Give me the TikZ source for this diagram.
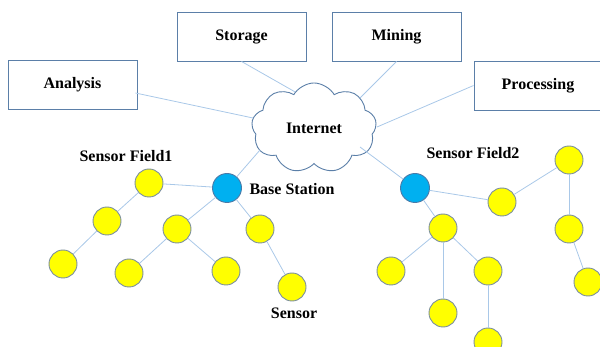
\documentclass[tikz,border=0pt]{standalone}
\usepackage{fontspec}
\setmainfont{Liberation Serif}
\usetikzlibrary{shapes.symbols,calc}
\definecolor{boxline}{HTML}{5B7FA8}
\definecolor{link}{HTML}{A9C8E8}
\definecolor{sensorfill}{HTML}{FFFF00}
\definecolor{sensorline}{HTML}{7A8EA0}
\definecolor{basefill}{HTML}{00B0F0}
\definecolor{baseline}{HTML}{4A7AA8}
\tikzset{
  x=1pt, y=-1pt,
  label text/.style={font=\fontsize{16}{18}\selectfont\bfseries},
  taskbox/.style={draw=boxline, line width=0.9pt, fill=white, minimum width=129pt,
                  minimum height=49pt, label text, inner sep=0pt},
  sensor/.style={circle, draw=sensorline, line width=0.9pt, fill=sensorfill,
                 minimum size=28pt, inner sep=0pt},
  base/.style={circle, draw=baseline, line width=0.9pt, fill=basefill,
               minimum size=29pt, inner sep=0pt},
  link/.style={draw=link, line width=0.8pt},
}
\begin{document}
\begin{tikzpicture}
\useasboundingbox (0,0) rectangle (600,347);
\clip (0,0) rectangle (600,347);

% links from the services to the cloud sit underneath everything
\coordinate (c-an) at (253,118);
\coordinate (c-st) at (304,97);
\coordinate (c-mi) at (360,98);
\coordinate (c-pr) at (377,127);
\coordinate (c-b1) at (260,150);
\coordinate (c-b2) at (360,147);

% service boxes and the cloud
\node[taskbox] (analysis) at (72.5,85) {Analysis};
\node[taskbox] (storage) at (241.5,36.5) {Storage};
\node[taskbox] (mining) at (396.5,36.5) {Mining};
\node[taskbox, minimum width=128pt] (processing) at (538,85.5) {Processing};

\path[link] ($(analysis.east)+(-2,8)$) -- (c-an);
\path[link] (storage.south) -- (c-st);
\path[link] (mining.south) -- (c-mi);
\path[link] (processing.west) -- (c-pr);

\node[cloud, draw=boxline, line width=0.9pt, fill=white, cloud puffs=9,
      cloud puff arc=120, minimum width=125pt, minimum height=67pt,
      label text, inner sep=0pt] (internet) at (314,128) {Internet};

% sensor field 1
\node[base] (bs1) at (227,188) {};
\node[sensor] (a1) at (149,183) {};
\node[sensor] (b1) at (107,221) {};
\node[sensor] (c1) at (63,264) {};
\node[sensor] (d1) at (177,229) {};
\node[sensor] (e1) at (129,273) {};
\node[sensor] (f1) at (226,271) {};
\node[sensor] (g1) at (260,229) {};
\node[sensor] (h1) at (292,287) {};

% sensor field 2
\node[base] (bs2) at (415,188) {};
\node[sensor] (p2) at (502,202) {};
\node[sensor] (q2) at (569,160) {};
\node[sensor] (r2) at (569,229) {};
\node[sensor] (s2) at (588,282) {};
\node[sensor] (t2) at (443,228) {};
\node[sensor] (u2) at (391,271) {};
\node[sensor] (v2) at (488,271) {};
\node[sensor] (w2) at (443,313) {};
\node[sensor] (x2) at (488,342) {};

% labels
\node[label text] (sf1) at (126,156) {Sensor Field1};
\node[label text] (bst) at (292,189) {Base Station};
\node[label text] (sen) at (294,313) {Sensor};
\node[label text] (sf2) at (473,153) {Sensor Field2};

% links inside the sensor fields
\path[link] (c-b1) -- (bs1);
\path[link] (c-b2) -- (bs2);
\path[link] (bs1) -- (a1);
\path[link] (a1) -- (b1);
\path[link] (b1) -- (c1);
\path[link] (bs1) -- (d1);
\path[link] (d1) -- (e1);
\path[link] (d1) -- (f1);
\path[link] (bs1) -- (g1);
\path[link] (g1) -- (h1);
\path[link] (bs2) -- (p2);
\path[link] (p2) -- (q2);
\path[link] (q2) -- (r2);
\path[link] (r2) -- (s2);
\path[link] (bs2) -- (t2);
\path[link] (t2) -- (u2);
\path[link] (t2) -- (w2);
\path[link] (t2) -- (v2);
\path[link] (v2) -- (x2);
\end{tikzpicture}
\end{document}
